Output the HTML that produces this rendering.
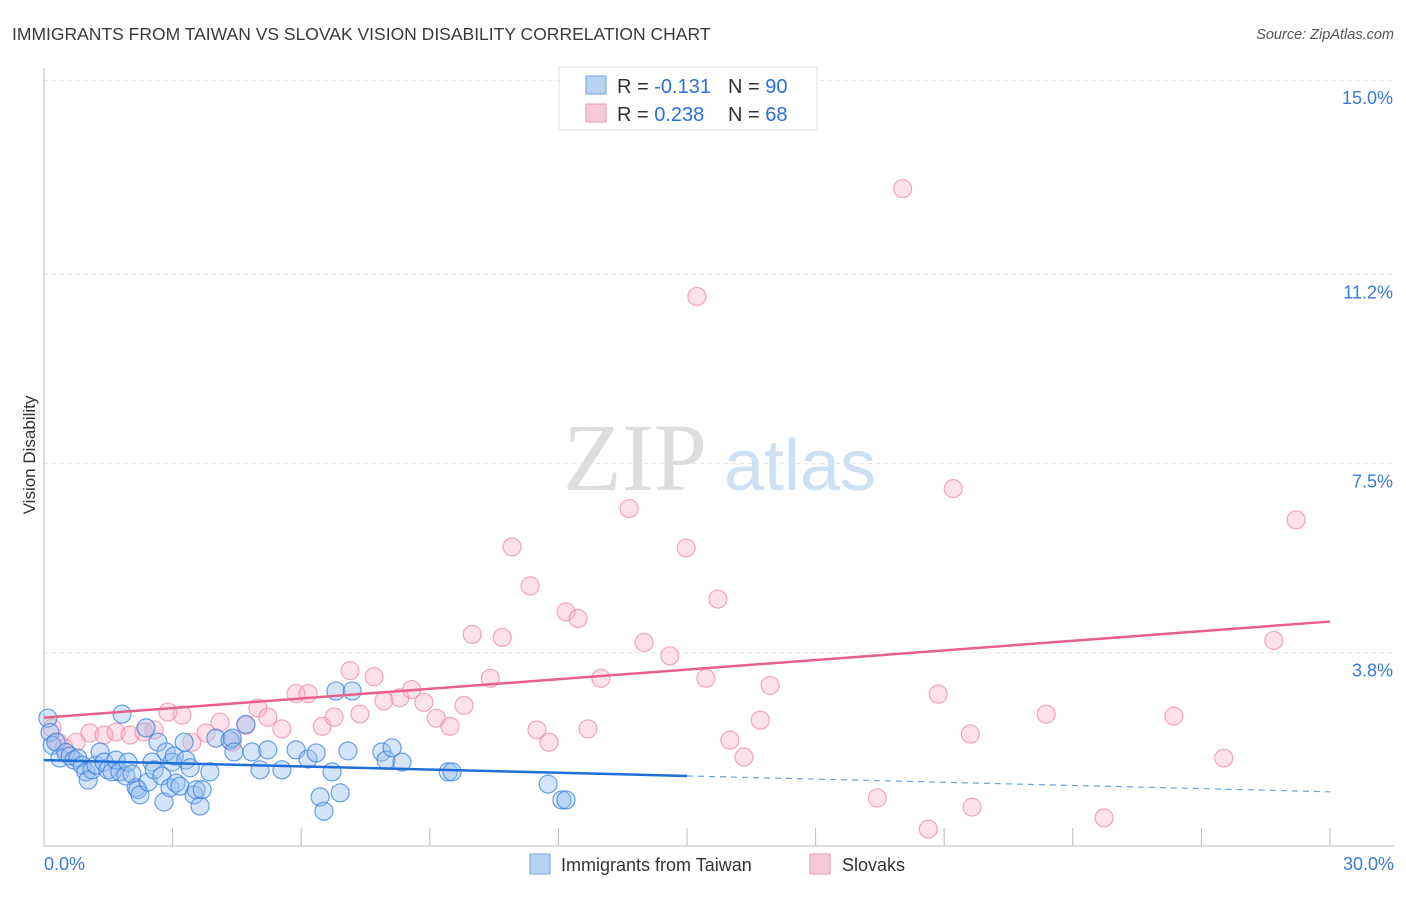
<!DOCTYPE html>
<html><head><meta charset="utf-8"><style>
body{margin:0;background:#fff;font-family:"Liberation Sans",sans-serif;}
</style></head><body>
<svg id="c" width="1406" height="892" xmlns="http://www.w3.org/2000/svg">
<text x="12" y="40" font-size="17.5" fill="#3a3a3a">IMMIGRANTS FROM TAIWAN VS SLOVAK VISION DISABILITY CORRELATION CHART</text>
<text x="1394" y="39" font-size="14.5" fill="#555" font-style="italic" text-anchor="end">Source: ZipAtlas.com</text>
<text x="35" y="455" font-size="17" fill="#333" text-anchor="middle" transform="rotate(-90 35 455)">Vision Disability</text>
<g><text x="635" y="490" font-size="96" fill="#ddd" font-family="Liberation Serif,serif" text-anchor="middle">ZIP</text><text x="800" y="490" font-size="72" fill="#cfe0f3" text-anchor="middle">atlas</text></g>
<g id="grid"></g><g id="ticks"></g><g id="pts"></g><g id="lines"></g>
<g>
<rect x="559" y="67" width="258" height="63" fill="#fff" stroke="#ddd"/>
<rect x="586" y="76" width="20" height="18" fill="#b8d3f3" stroke="#6fa0e0"/>
<rect x="586" y="104" width="20" height="18" fill="#f9c9d7" stroke="#ee9ab3"/>
<text x="617" y="93" font-size="20" fill="#333">R = <tspan fill="#2a6fdb">-0.131</tspan><tspan x="728">N = </tspan><tspan fill="#2a6fdb">90</tspan></text>
<text x="617" y="121" font-size="20" fill="#333">R = <tspan fill="#2a6fdb"> 0.238</tspan><tspan x="728">N = </tspan><tspan fill="#2a6fdb">68</tspan></text>
</g>
<g>
<rect x="530" y="854" width="20" height="20" fill="#b8d3f3" stroke="#6fa0e0"/>
<text x="561" y="871" font-size="18" fill="#333">Immigrants from Taiwan</text>
<rect x="810" y="854" width="20" height="20" fill="#f9c9d7" stroke="#ee9ab3"/>
<text x="842" y="871" font-size="18" fill="#333">Slovaks</text>
</g>
</svg>
<script>
const yTicks=[15.0,11.2,7.5,3.8];
const yTickLabels=["15.0%","11.2%","7.5%","3.8%"];
const xEndLabels=["0.0%","30.0%"];
const blueX=[0.09,0.14,0.19,0.28,0.37,0.51,0.61,0.7,0.79,0.89,0.98,1.03,1.12,1.21,1.31,1.4,1.49,1.59,1.68,1.77,1.82,1.91,1.96,2.05,2.15,2.19,2.24,2.38,2.43,2.52,2.57,2.66,2.75,2.8,2.85,2.94,2.99,3.04,3.08,3.17,3.27,3.31,3.41,3.5,3.55,3.64,3.69,3.87,4.01,4.34,4.39,4.43,4.71,4.85,5.04,5.22,5.55,5.88,6.16,6.35,6.44,6.53,6.72,6.81,6.91,7.09,7.19,7.88,7.98,8.12,8.35,9.43,9.52,11.76,12.08,12.18];
const blueY=[2.52,2.24,1.99,2.05,1.74,1.85,1.78,1.7,1.74,1.6,1.47,1.31,1.51,1.6,1.86,1.66,1.51,1.47,1.7,1.47,2.6,1.39,1.66,1.43,1.16,1.12,1.02,2.33,1.27,1.66,1.51,2.05,1.39,0.88,1.86,1.16,1.66,1.78,1.25,1.19,2.05,1.7,1.55,1.02,1.12,0.8,1.12,1.47,2.13,2.09,2.13,1.86,2.4,1.86,1.51,1.9,1.51,1.9,1.72,1.84,0.98,0.7,1.47,3.05,1.06,1.88,3.05,1.86,1.7,1.94,1.66,1.47,1.47,1.23,0.92,0.92];
const pinkX=[0.19,0.33,0.47,0.75,1.07,1.4,1.68,2.01,2.33,2.57,2.89,3.22,3.45,3.78,4.11,4.39,4.71,4.99,5.22,5.55,5.88,6.16,6.49,6.77,7.14,7.37,7.7,7.93,8.3,8.58,8.86,9.15,9.47,9.8,9.99,10.41,10.69,10.92,11.34,11.5,11.78,12.18,12.46,12.69,12.99,13.65,14.0,14.6,14.98,15.23,15.44,15.72,16.0,16.33,16.71,16.94,19.44,20.03,20.63,20.86,21.21,21.61,21.65,23.38,24.73,26.36,27.52,28.69,29.21];
const pinkY=[2.33,2.05,1.94,2.05,2.23,2.19,2.25,2.19,2.25,2.29,2.64,2.58,2.05,2.23,2.44,2.05,2.38,2.72,2.54,2.31,3.0,3.0,2.36,2.54,3.45,2.6,3.33,2.86,2.92,3.08,2.83,2.52,2.36,2.77,4.16,3.3,4.1,5.87,5.11,2.29,2.05,4.6,4.47,2.31,3.3,6.62,4.0,3.74,5.85,10.77,3.3,4.85,2.09,1.76,2.48,3.16,0.96,12.88,0.35,2.99,7.01,2.21,0.78,2.6,0.57,2.56,1.74,4.04,6.4];
const blueTrend=[1.7,1.08];
const pinkTrend=[2.53,4.41];
const X=v=>44+v/30*1286, Y=v=>847-v/3.75*191.7;
const ns='http://www.w3.org/2000/svg';
function mk(t,a,p){const e=document.createElementNS(ns,t);for(const k in a)e.setAttribute(k,a[k]);document.getElementById(p).appendChild(e);return e;}
yTicks.forEach((t,i)=>{
 const g=mk('line',{x1:44,x2:1394,y1:Y(t),y2:Y(t),stroke:'#e2e2e2','stroke-dasharray':'4,4'},'grid');
 
 
 const l=mk('text',{x:1393,y:Y(t)+24,'font-size':18,fill:'#3a7bd5','text-anchor':'end'},'ticks');
 l.textContent=yTickLabels[i];
 
 
});
const ax=mk('line',{x1:44,x2:44,y1:68,y2:846,stroke:'#bbb'},'ticks');


const bx=mk('line',{x1:44,x2:1394,y1:846,y2:846,stroke:'#bbb'},'ticks');


for(let i=1;i<=10;i++){const t=mk('line',{x1:X(i*3),x2:X(i*3),y1:828,y2:846,stroke:'#bbb'},'ticks');
 
 }
[[0,'start',44],[30,'end',1394]].forEach((d,i)=>{const t=mk('text',{x:d[2],y:870,'font-size':18,fill:'#3a7bd5','text-anchor':d[1]},'ticks');t.textContent=xEndLabels[i];
 
 });
pinkX.forEach((x,i)=>{const c=mk('circle',{cx:X(x),cy:Y(pinkY[i]),r:9,fill:'rgba(246,170,194,0.35)',stroke:'rgba(236,140,170,0.75)','stroke-width':1.2},'pts');
 
 });
blueX.forEach((x,i)=>{const c=mk('circle',{cx:X(x),cy:Y(blueY[i]),r:9,fill:'rgba(150,190,240,0.4)',stroke:'rgba(60,130,220,0.75)','stroke-width':1.2},'pts');
 
 });
const bm=blueTrend[0]+(blueTrend[1]-blueTrend[0])*15/30;
const l1=mk('line',{x1:X(0),y1:Y(blueTrend[0]),x2:X(15),y2:Y(bm),stroke:'#1f6fd6','stroke-width':2.5},'lines');


const l2=mk('line',{x1:X(15),y1:Y(bm),x2:X(30),y2:Y(blueTrend[1]),stroke:'#6fa0e0','stroke-width':1.2,'stroke-dasharray':'6,5'},'lines');


const l3=mk('line',{x1:X(0),y1:Y(pinkTrend[0]),x2:X(30),y2:Y(pinkTrend[1]),stroke:'#e8608a','stroke-width':2.5},'lines');


</script>
</body></html>
